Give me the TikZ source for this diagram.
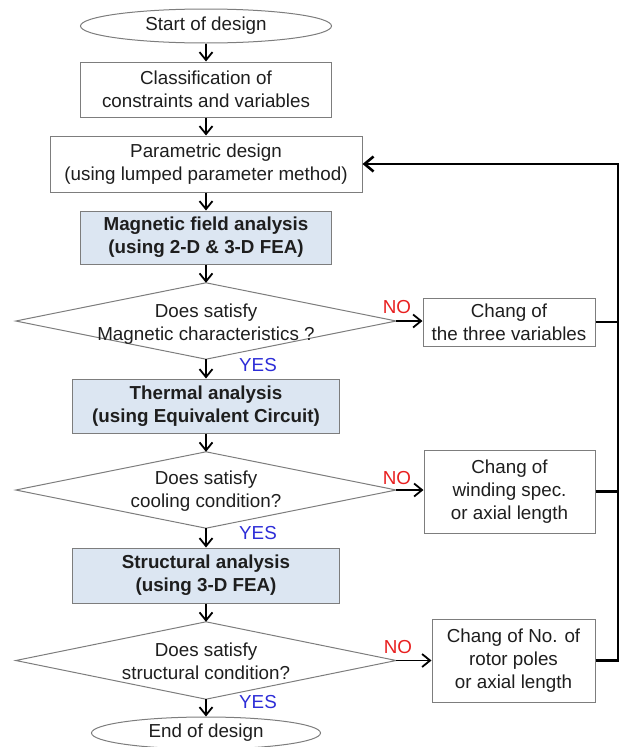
\documentclass[tikz,border=0pt]{standalone}
\usepackage{fontspec}
\setmainfont{Liberation Sans}
\usetikzlibrary{shapes.geometric,arrows.meta,calc}
\definecolor{boxfill}{RGB}{220,230,242}
\definecolor{edge}{RGB}{125,125,125}
\definecolor{txt}{RGB}{30,30,30}
\definecolor{nored}{RGB}{232,32,32}
\definecolor{yesblue}{RGB}{45,45,215}
\begin{document}
\begin{tikzpicture}[x=1pt,y=-1pt,
  font=\fontsize{18.8}{23}\selectfont,
  every node/.style={text=txt, inner sep=0pt, align=center},
  wbox/.style={draw=edge, line width=1pt, fill=white, rectangle},
  bbox/.style={wbox, fill=boxfill, font=\fontsize{18.8}{23}\selectfont\bfseries},
  term/.style={draw=edge, line width=1pt, ellipse, fill=white},
  decarea/.style={rectangle, minimum width=380pt, minimum height=76pt},
  dline/.style={draw=edge, line width=1pt},
  flow/.style={line width=1.8pt, -{Straight Barb[length=8pt,width=13pt]}},
  fb/.style={line width=2.6pt, line join=miter},
  yes/.style={text=yesblue},
  no/.style={text=nored},
]
\useasboundingbox (0,0) rectangle (621,747);

% main column
\node[term, minimum width=251pt, minimum height=34pt] (start) at (206,26) {Start of design};
\node[wbox, minimum width=251pt, minimum height=55pt] (cls) at (206,89.5) {Classification of\\constraints and variables};
\node[wbox, minimum width=312pt, minimum height=56pt] (par) at (206,164) {Parametric design\\(using lumped parameter method)};
\node[bbox, minimum width=251pt, minimum height=53pt] (mag) at (206,237.5) {Magnetic field analysis\\(using 2-D \& 3-D FEA)};
\node[decarea] (d1) at (206,321) {};
\node[bbox, minimum width=267pt, minimum height=54pt] (thm) at (206,406) {Thermal analysis\\(using Equivalent Circuit)};
\node[decarea] (d2) at (206,490) {};
\node[bbox, minimum width=267pt, minimum height=55pt] (str) at (206,575.5) {Structural analysis\\(using 3-D FEA)};
\node[decarea, minimum height=77pt] (d3) at (206,660.5) {};
\node[term, minimum width=229pt, minimum height=32pt] (end) at (206,733) {End of design};

% diamonds
\draw[dline] (d1.north) -- (d1.east) -- (d1.south) -- (d1.west) -- cycle;
\draw[dline] (d2.north) -- (d2.east) -- (d2.south) -- (d2.west) -- cycle;
\draw[dline] (d3.north) -- (d3.east) -- (d3.south) -- (d3.west) -- cycle;
\node (d1t) at (206,324) {Does satisfy\\Magnetic characteristics ?};
\node (d2t) at (206,491) {Does satisfy\\cooling condition?};
\node (d3t) at (206,661) {Does satisfy\\structural condition?};

% side boxes
\node[wbox, minimum width=172pt, minimum height=48pt] (b1) at (509,322) {Chang of\\the three variables};
\node[wbox, minimum width=171pt, minimum height=83pt] (b2) at (509.5,491.5) {Chang of\\winding spec.\\or axial length};
\node[wbox, minimum width=163pt, minimum height=83pt] (b3) at (513.5,660.5) {Chang of No. of\\rotor poles\\or axial length};

% labels
\node[yes] (y1) at (258,365) {YES};
\node[yes] (y2) at (258,533) {YES};
\node[yes] (y3) at (258,702) {YES};
\node[no] (n1) at (397,307) {NO};
\node[no] (n2) at (397,478) {NO};
\node[no] (n3) at (398,647) {NO};

% main flow
\draw[flow] (start) -- (cls);
\draw[flow] (cls) -- (par);
\draw[flow] (par) -- (mag);
\draw[flow] (mag) -- (d1.north);
\draw[flow] (d1.south) -- (thm);
\draw[flow] (thm) -- (d2.north);
\draw[flow] (d2.south) -- (str);
\draw[flow] (str) -- (d3.north);
\draw[flow] (d3.south) -- (end);

% NO branches
\draw[flow] (d1.east) -- (b1.west |- d1.east);
\draw[flow] (d2.east) -- (b2.west |- d2.east);
\draw[flow] (d3.east) -- (b3.west |- d3.east);

% feedback
\coordinate (rx) at (618,0);
\draw[fb] (b1.east) -- (b1.east -| rx);
\draw[fb] (b2.east) -- (b2.east -| rx);
\draw[fb, -{Straight Barb[length=9pt,width=15pt]}] (b3.east) -- (b3.east -| rx) |- (par.east);
\end{tikzpicture}
\end{document}
